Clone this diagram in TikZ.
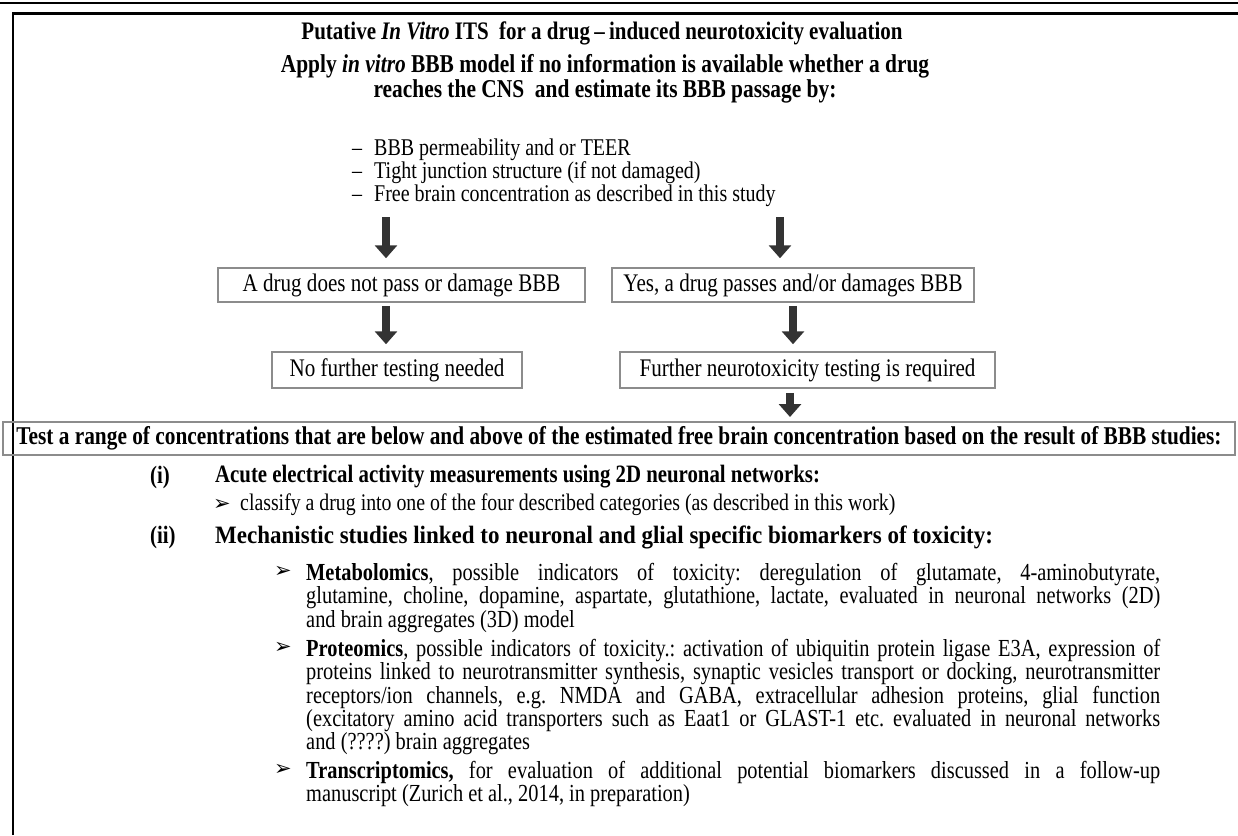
\documentclass[tikz,border=0pt]{standalone}
\usepackage{fontspec}
\setmainfont{Liberation Serif}[FakeStretch=0.833]
\newfontfamily\widefont{Liberation Serif}[FakeStretch=0.92]
\newfontfamily\symfont{DejaVu Sans}
\usetikzlibrary{arrows.meta}
\begin{document}
\frenchspacing
\begin{tikzpicture}[x=1pt,y=-1pt,
  bigarrow/.style={draw=black!80, line width=7.5pt, -{Triangle[width=22pt,length=13pt]}},
  flowbox/.style={draw=black!45, line width=1.5pt, inner sep=0pt, minimum height=34pt,
    font=\fontsize{25.3}{26}\selectfont},
  headtext/.style={font=\bfseries\fontsize{25.2}{26}\selectfont, inner sep=0pt},
  regtext/.style={font=\fontsize{23.8}{24}\selectfont, inner sep=0pt, anchor=west},
  boldtext/.style={font=\bfseries\fontsize{25}{26}\selectfont, inner sep=0pt, anchor=west},
  arrbullet/.style={font=\symfont\fontsize{21}{22}\selectfont, inner sep=0pt, anchor=west},
  para/.style={font=\fontsize{24.5}{21.2}\selectfont, inner sep=0pt, anchor=north west,
    text width=854pt, align=justify}
]
\useasboundingbox (0,0) rectangle (1238,835);
% frame
\draw[line width=2.5pt] (0,3) -- (1238,3);
\draw[line width=2.5pt] (13,835) -- (13,13.5) -- (1238,13.5);

% header
\node[headtext] (title) at (602,33) {Putative \textit{In Vitro} ITS\ \ for a drug\,–\,induced neurotoxicity evaluation};
\node[headtext, font=\bfseries\fontsize{25.7}{22}\selectfont, align=center] (apply) at (605,79) {Apply \textit{in vitro} BBB model if no information is available whether a drug\\ reaches the CNS\ \ and estimate its BBB passage by:};
\node[font=\fontsize{24}{19.5}\selectfont, inner sep=0pt, anchor=west, align=left] (bul) at (352,173)
  {–\hspace{12pt}BBB permeability and or TEER\\
   –\hspace{12pt}Tight junction structure (if not damaged)\\
   –\hspace{12pt}Free brain concentration as described in this study};

% flow boxes
\node[flowbox, minimum width=367pt] (lb) at (401.5,285) {A drug does not pass or damage BBB};
\node[flowbox, minimum width=362pt] (rb) at (793,285) {Yes, a drug passes and/or damages BBB};
\node[flowbox, minimum width=250pt, minimum height=36pt] (nb) at (397,370) {No further testing needed};
\node[flowbox, minimum width=375pt, minimum height=36pt] (fb) at (807.5,370) {Further neurotoxicity testing is required};
\node[draw=black!45, line width=2pt, inner sep=0pt, minimum width=1232pt, minimum height=33pt,
  font=\bfseries\fontsize{25.6}{26}\selectfont] (test) at (619,438.5)
  {Test a range of concentrations that are below and above of the estimated free brain concentration based on the result of BBB studies:};

% arrows
\draw[bigarrow] ([xshift=-15.5pt,yshift=50pt]lb.north) -- ([xshift=-15.5pt,yshift=9pt]lb.north);
\draw[bigarrow] ([xshift=-13pt,yshift=50pt]rb.north) -- ([xshift=-13pt,yshift=9pt]rb.north);
\draw[bigarrow] ([xshift=-15.5pt,yshift=-3pt]lb.south) -- ([xshift=-11pt,yshift=7pt]nb.north);
\draw[bigarrow] ([xshift=0pt,yshift=-3pt]rb.south) -- ([xshift=-14.5pt,yshift=7pt]fb.north);
\coordinate (fbx) at ([xshift=-17.5pt,yshift=-4pt]fb.south);
\coordinate (tx) at (fbx |- test.north);
\draw[bigarrow] (fbx) -- ([yshift=4pt]tx);

% lower part
\node[boldtext] (il) at (150,477) {(i)};
\node[boldtext] (it) at (215,477) {Acute electrical activity measurements using 2D neuronal networks:};
\node[arrbullet] (ib) at (213,505) {➢};
\node[regtext] (ibt) at (240,505) {classify a drug into one of the four described categories (as described in this work)};
\node[boldtext] (iil) at (150,537) {(ii)};
\node[boldtext, font=\widefont\bfseries\fontsize{25}{26}\selectfont] (iit) at (215,537) {Mechanistic studies linked to neuronal and glial specific biomarkers of toxicity:};

\node[arrbullet] (mb) at (274,572) {➢};
\node[para] (mt) at (306,563) {\tolerance=9999\hbadness=10000\textbf{Metabolomics}, possible indicators of toxicity: deregulation of glutamate, 4-aminobutyrate,\linebreak
glutamine, choline, dopamine, aspartate, glutathione, lactate, evaluated in neuronal networks (2D)\linebreak
and brain aggregates (3D) model};

\node[arrbullet] (pb) at (274,648) {➢};
\node[para] (pt) at (306,639) {\tolerance=9999\hbadness=10000\textbf{Proteomics}, possible indicators of toxicity.: activation of ubiquitin protein ligase E3A, expression of\linebreak
proteins linked to neurotransmitter synthesis, synaptic vesicles transport or docking, neurotransmitter\linebreak
receptors/ion channels, e.g. NMDA and GABA, extracellular adhesion proteins, glial function\linebreak
(excitatory amino acid transporters such as Eaat1 or GLAST-1 etc. evaluated in neuronal networks\linebreak
and (????) brain aggregates};

\node[arrbullet] (tb) at (274,770) {➢};
\node[para] (tt) at (306,761) {\tolerance=9999\hbadness=10000\textbf{Transcriptomics,} for evaluation of additional potential biomarkers discussed in a follow-up\linebreak
manuscript (Zurich et al., 2014, in preparation)};
\end{tikzpicture}
\end{document}
